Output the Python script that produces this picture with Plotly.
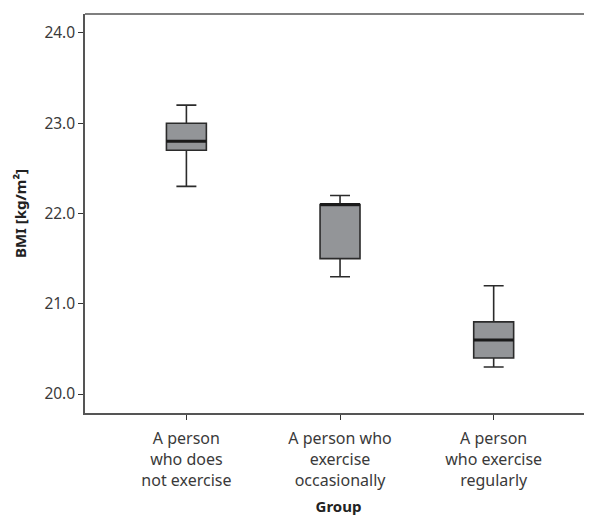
import plotly.graph_objects as go

categories = ["A person<br>who does<br>not exercise",
              "A person who<br>exercise<br>occasionally",
              "A person<br>who exercise<br>regularly"]
lower_whisker = [22.3, 21.3, 20.3]
q1_values = [22.7, 21.5, 20.4]
median_values = [22.8, 22.1, 20.6]
q3_values = [23.0, 22.1, 20.8]
upper_whisker = [23.2, 22.2, 21.2]
y_ticks = [20.0, 21.0, 22.0, 23.0, 24.0]

BOX_W = 0.26
FILL = "#939598"
LINE = "#2b2b2b"
TXT = "#3a3a3a"
FONT = "Noto Sans"

fig = go.Figure()
positions = list(range(len(categories)))
for i in positions:
    fig.add_trace(go.Box(
        x=[i], q1=[q1_values[i]], median=[median_values[i]], q3=[q3_values[i]],
        lowerfence=[lower_whisker[i]], upperfence=[upper_whisker[i]],
        width=BOX_W, whiskerwidth=0.5, fillcolor=FILL,
        line=dict(color=LINE, width=1.6), showlegend=False, hoverinfo="skip",
    ))
    fig.add_trace(go.Scatter(
        x=[i - BOX_W / 2, i + BOX_W / 2], y=[median_values[i], median_values[i]],
        mode="lines", line=dict(color="#1a1a1a", width=3), showlegend=False,
        hoverinfo="skip",
    ))

fig.add_shape(type="line", xref="paper", yref="paper", x0=0, x1=1, y0=1, y1=1,
              line=dict(color="#555555", width=1.5))

# page body has an 8px default margin, so the figure is 8px smaller
fig.update_layout(
    width=584, height=508,
    margin=dict(l=77, r=0, t=6, b=103),
    paper_bgcolor="white", plot_bgcolor="white",
    font=dict(family=FONT, size=15, color=TXT),
)
fig.update_xaxes(
    range=[-0.66, 2.64], tickmode="array", tickvals=positions, ticktext=categories,
    showline=True, linecolor="#555555", linewidth=1.5, showgrid=False, zeroline=False,
    ticks="outside", ticklen=5, tickcolor="#333333", tickwidth=1,
    ticklabelstandoff=5,
    tickfont=dict(size=16, color=TXT),
    title=dict(text="<b>Group</b>", font=dict(size=15, color="#222222"), standoff=13),
)
fig.update_yaxes(
    range=[19.79, 24.21], tickmode="array", tickvals=y_ticks,
    ticktext=[f"{v:.1f}" for v in y_ticks],
    showline=True, linecolor="#555555", linewidth=1.5, showgrid=False, zeroline=False,
    ticks="outside", ticklen=5, tickcolor="#333333", tickwidth=1,
    tickfont=dict(size=15.5, color=TXT),
    title=dict(text="<b>BMI [kg/m²]</b>", font=dict(size=15, color="#222222"), standoff=14),
)

fig.write_html("out.html")
